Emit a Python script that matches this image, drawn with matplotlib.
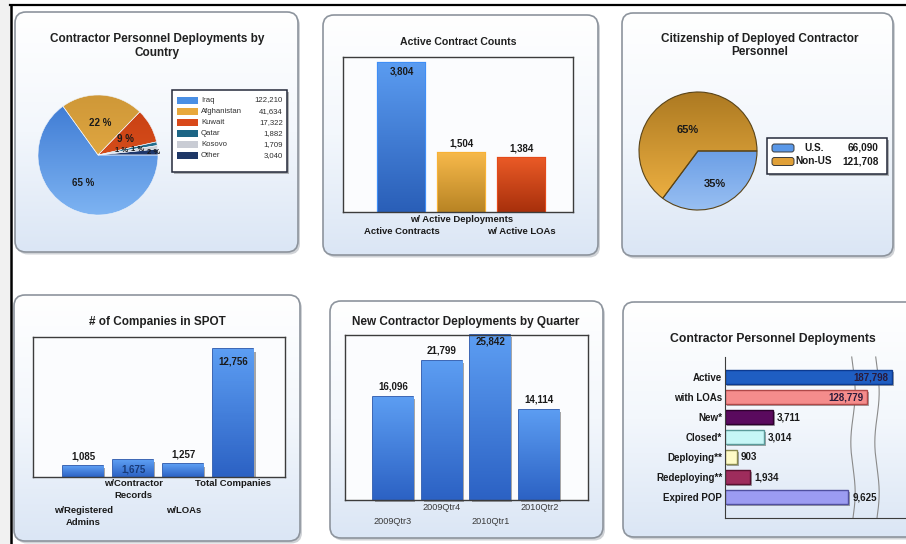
import numpy as np
import matplotlib
matplotlib.use("Agg")
import matplotlib.pyplot as plt
import matplotlib.patheffects as pe
from matplotlib.patches import FancyBboxPatch, Rectangle
from matplotlib.colors import LinearSegmentedColormap

plt.rcParams['font.family'] = ['Liberation Sans', 'DejaVu Sans']

W, H = 906, 544

# deployments by country
countries = ['Iraq', 'Afghanistan', 'Kuwait', 'Qatar', 'Kosovo', 'Other']
country_counts = [122210, 41634, 17322, 1882, 1709, 3040]

# active contracts
contract_labels = ['Active Contracts', 'w/ Active Deployments', 'w/ Active LOAs']
contract_counts = [3804, 1504, 1384]

# citizenship of deployed personnel
citizenship = ['U.S.', 'Non-US']
citizenship_counts = [66090, 121708]

# companies registered in SPOT
company_labels = ['w/Registered\nAdmins', 'w/Contractor\nRecords', 'w/LOAs', 'Total Companies']
company_counts = [1085, 1675, 1257, 12756]

# new deployments per quarter
quarters = ['2009Qtr3', '2009Qtr4', '2010Qtr1', '2010Qtr2']
quarter_counts = [16096, 21799, 25842, 14114]

# personnel deployments by status
status_labels = ['Active', 'with LOAs', 'New*', 'Closed*', 'Deploying**', 'Redeploying**', 'Expired POP']
status_counts = [187798, 128779, 3711, 3014, 903, 1934, 9625]

TXT = '#1a1a1a'

fig = plt.figure(figsize=(W / 100, H / 100), dpi=100)
fig.patch.set_facecolor('white')
bg = fig.add_axes([0, 0, 1, 1])
bg.axis('off')

panel_cmap = LinearSegmentedColormap.from_list('panel', ['#ffffff', '#f3f7fc', '#dbe6f5'])


def panel(x0, y0, x1, y1):
    kw = dict(boxstyle='round,pad=0,rounding_size=11')
    bg.add_patch(FancyBboxPatch((x0 + 2, y0 + 2.5), x1 - x0, y1 - y0, fc='#a8adb5',
                                ec='none', alpha=0.55, zorder=1, **kw))
    box = FancyBboxPatch((x0, y0), x1 - x0, y1 - y0, fc='none', ec='#8d949d', lw=1.2,
                         zorder=3, **kw)
    bg.add_patch(box)
    img = bg.imshow(np.linspace(0, 1, 128).reshape(-1, 1), cmap=panel_cmap,
                    extent=(x0, x1, y1, y0), aspect='auto', zorder=2)
    img.set_clip_path(box)


def chart_axes(x0, y0, x1, y1):
    return fig.add_axes([x0 / W, 1 - y1 / H, (x1 - x0) / W, (y1 - y0) / H])


def title(x, y, s, size=8.5):
    bg.text(x, y, s, ha='center', va='center', fontsize=size, fontweight='bold',
            color='#202020', linespacing=1.15, zorder=5)


def shade(ax, patches, top, bottom):
    cmap = LinearSegmentedColormap.from_list('bar', [top, bottom])
    for p in patches:
        x, y, w, h = p.get_x(), p.get_y(), p.get_width(), p.get_height()
        im = ax.imshow(np.linspace(0, 1, 64).reshape(-1, 1), cmap=cmap,
                       extent=(x, x + w, y, y + h), aspect='auto', zorder=p.get_zorder() + 0.1)
        im.set_clip_path(p)


def bar_frame(ax):
    ax.set_facecolor('#fbfcfe')
    for s in ax.spines.values():
        s.set_color('#3c3c3c')
        s.set_linewidth(1.0)
    ax.set_yticks([])
    ax.tick_params(axis='x', length=0, labelsize=6.8, labelcolor=TXT)


def stagger(ax, pads):
    for tick, pad in zip(ax.xaxis.get_major_ticks(), pads):
        tick.set_pad(pad)


shadow = [pe.SimplePatchShadow(offset=(1.5, -1.5), shadow_rgbFace='#606060', alpha=0.55), pe.Normal()]

# page frame
bg.add_patch(Rectangle((0, 0), 10, H, fc='#f1f1f1', ec='none', zorder=0))
bg.plot([10, W], [5, 5], color='black', lw=1.6, zorder=6)
bg.plot([10.5, 10.5], [5, H], color='black', lw=1.8, zorder=6)

panel(15, 12, 298, 252)
panel(323, 15, 598, 255)
panel(622, 13, 893, 256)
panel(14, 295, 300, 541)
panel(330, 301, 603, 538)
panel(623, 302, 930, 537)

# ---- deployments by country (pie) ----
title(157, 46, 'Contractor Personnel Deployments by\nCountry')
r = 60 * 1.03
ax1 = chart_axes(98 - r, 155 - r, 98 + r, 155 + r)
c1 = ['#4a8fe4', '#e8a83c', '#d9491a', '#1d6585', '#c9ccd4', '#1e3766']
wedges, _, pct = ax1.pie(country_counts, colors=c1, startangle=0, counterclock=False,
                         autopct=lambda p: f'{p:.0f} %', pctdistance=0.53,
                         wedgeprops=dict(ec='#f0f4fa', lw=0.4),
                         textprops=dict(fontsize=7, fontweight='bold', color='#1a1a1a'))
g1 = [('#3b78d2', '#7db3f2'), ('#cf9838', '#f0b44a'), ('#c63e12', '#e45a22'),
      ('#1d6585', '#2a7898'), ('#c0c4cc', '#dde0e6'), ('#1a3260', '#24407a')]
for w, (top, bot) in zip(wedges, g1):
    w.set_facecolor('none')
    cm = LinearSegmentedColormap.from_list('w', [top, bot])
    im = ax1.imshow(np.linspace(0, 1, 64).reshape(-1, 1), cmap=cm, extent=(-1, 1, -1, 1),
                    zorder=0.5)
    im.set_clip_path(w)
# the three thin slices share one spot, so spread their labels outwards a little
for w, t, d in zip(wedges[3:], pct[3:], [0.40, 0.66, 0.92]):
    a = np.deg2rad((w.theta1 + w.theta2) / 2)
    t.set_position((d * np.cos(a), d * np.sin(a)))
    t.set_fontsize(5.5)
ax1.set_xlim(-1.03, 1.03)
ax1.set_ylim(-1.03, 1.03)
ax1.set_aspect('equal')
ax1.axis('off')

# legend with counts
bg.add_patch(Rectangle((174, 92), 115, 82, fc='#707070', ec='none', alpha=0.5, zorder=4))
bg.add_patch(Rectangle((172, 90), 115, 82, fc='white', ec='#252a3a', lw=1.1, zorder=4))
for i, (name, v, col) in enumerate(zip(countries, country_counts, c1)):
    y = 100 + 11.1 * i
    bg.add_patch(Rectangle((177, y - 3.5), 21, 7, fc=col, ec='none', zorder=5))
    bg.text(201, y, name, fontsize=5.6, va='center', color='#303030', zorder=5)
    bg.text(283, y, f'{v:,}', fontsize=5.6, va='center', ha='right', color='#303030', zorder=5)

# ---- active contract counts ----
title(458, 42, 'Active Contract Counts', size=7.6)
ax2 = chart_axes(343, 57, 573, 212)
b2 = ax2.bar(range(3), contract_counts, width=0.78, color=['#2e66c4', '#c08a28', '#b0360e'],
             ec=['#3f8ef6', '#f8b236', '#e44a1a'], lw=1.6, zorder=2)
shade(ax2, b2, '#5a9bf0', '#2a5fb8')
shade(ax2, [b2[1]], '#f6b84a', '#b88424')
shade(ax2, [b2[2]], '#ea5a26', '#a8300c')
ax2.bar_label(b2, labels=[f'{contract_counts[0]:,}', '', ''], padding=-10, fontsize=7,
              fontweight='bold', color=TXT)
ax2.bar_label(b2, labels=['', f'{contract_counts[1]:,}', f'{contract_counts[2]:,}'], padding=3,
              fontsize=7, fontweight='bold', color=TXT)
ax2.set_xlim(-0.975, 2.86)
ax2.set_ylim(0, 3960)
bar_frame(ax2)
ax2.set_xticks(range(3), contract_labels, fontweight='bold')
stagger(ax2, [11, 2.5, 11])

# ---- citizenship (pie) ----
title(760, 45.5, 'Citizenship of Deployed Contractor\nPersonnel')
r = 59 * 1.03
ax3 = chart_axes(698 - r, 151 - r, 698 + r, 151 + r)
c3 = ['#5a98e8', '#e0a038']
w3, _, pct3 = ax3.pie(citizenship_counts, colors=c3, startangle=0, counterclock=False,
                      autopct=lambda p: f'{p:.0f}%',
                      wedgeprops=dict(ec='#5a4418', lw=0.8),
                      textprops=dict(fontsize=8, fontweight='bold', color='#1a1a1a'))
g3 = [('#3f7fda', '#98bff2'), ('#ad7a22', '#f2b444')]
for w, (top, bot) in zip(w3, g3):
    w.set_facecolor('none')
    cm = LinearSegmentedColormap.from_list('w', [top, bot])
    im = ax3.imshow(np.linspace(0, 1, 64).reshape(-1, 1), cmap=cm, extent=(-1, 1, -1, 1),
                    zorder=0.5)
    im.set_clip_path(w)
for w, t, d in zip(w3, pct3, [0.62, 0.4]):
    a = np.deg2rad((w.theta1 + w.theta2) / 2)
    t.set_position((d * np.cos(a), d * np.sin(a)))
ax3.set_xlim(-1.03, 1.03)
ax3.set_ylim(-1.03, 1.03)
ax3.set_aspect('equal')
ax3.axis('off')

bg.add_patch(Rectangle((769, 140), 120, 36, fc='#707070', ec='none', alpha=0.5, zorder=4))
bg.add_patch(Rectangle((767, 138), 120, 36, fc='white', ec='#252a3a', lw=1.1, zorder=4))
for i, (name, v, col) in enumerate(zip(citizenship, citizenship_counts, c3)):
    y = 148 + 13.5 * i
    bg.add_patch(FancyBboxPatch((772, y - 4), 22, 8, boxstyle='round,pad=0,rounding_size=2.5',
                                fc=col, ec='#3a3a3a', lw=0.7, zorder=5))
    bg.text(814, y, name, fontsize=7.2, fontweight='bold', va='center', ha='center', color=TXT,
            zorder=5)
    bg.text(879, y, f'{v:,}', fontsize=7.2, fontweight='bold', va='center', ha='right',
            color=TXT, zorder=5)

# ---- companies in SPOT ----
title(157, 322, '# of Companies in SPOT')
ax4 = chart_axes(33, 337, 285, 477)
b4 = ax4.bar(range(4), company_counts, width=0.8, color='#2a62c4', ec='#1a4ca8', lw=1.2, zorder=2)
for b in b4:
    b.set_path_effects(shadow)
shade(ax4, b4, '#5c9df2', '#2c62c4')
ax4.bar_label(b4, labels=[f'{company_counts[0]:,}', '', f'{company_counts[2]:,}', ''], padding=3.5,
              fontsize=7, fontweight='bold', color=TXT)
ax4.bar_label(b4, labels=['', f'{company_counts[1]:,}', '', ''], padding=-10.5,
              fontsize=7, fontweight='bold', color='#183a78')
ax4.bar_label(b4, labels=['', '', '', f'{company_counts[3]:,}'], padding=-12,
              fontsize=7, fontweight='bold', color=TXT)
ax4.set_xlim(-1.0, 4.03)
ax4.set_ylim(0, 14000)
bar_frame(ax4)
ax4.set_xticks(range(4), company_labels, fontweight='bold', linespacing=1.35)
stagger(ax4, [21, 1.5, 21, 1.5])

# ---- new deployments by quarter ----
title(466, 322, 'New Contractor Deployments by Quarter')
ax5 = chart_axes(345, 335, 588, 500)
b5 = ax5.bar(range(4), quarter_counts, width=0.82, color='#2a62c4', ec='#1a4ca8', lw=1.2,
             zorder=2, clip_on=False)
for b in b5:
    b.set_path_effects(shadow)
shade(ax5, b5, '#5c9df2', '#2c62c4')
ax5.bar_label(b5, labels=[f'{v:,}' if i != 2 else '' for i, v in enumerate(quarter_counts)],
              padding=4, fontsize=7, fontweight='bold', color=TXT)
ax5.bar_label(b5, labels=['', '', f'{quarter_counts[2]:,}', ''], padding=-8, fontsize=7,
              fontweight='bold', color=TXT)
ax5.set_xlim(-0.98, 4.0)
ax5.set_ylim(0, 25842)
bar_frame(ax5)
ax5.set_xticks(range(4), quarters)
ax5.tick_params(axis='x', labelsize=6.6, labelcolor='#3a3a3a')
stagger(ax5, [12, 2, 12, 2])

# ---- deployments by status (broken value axis) ----
title(773, 339, 'Contractor Personnel Deployments', size=8.8)
ax6 = chart_axes(725, 357, 906, 518)
brk_v = [0, 10000, 120000, 135000, 180000, 195000]
brk_p = [0, 128, 128.5, 152, 152.5, 181]
ax6.set_xscale('function', functions=(lambda v: np.interp(v, brk_v, brk_p),
                                      lambda p: np.interp(p, brk_p, brk_v)))
c6 = ['#1f5ec2', '#f58c8c', '#5a0a5e', '#c6f6f6', '#fffbc6', '#9e2c5c', '#9c9cf2']
e6 = ['#0c3a90', '#b04848', '#2e002e', '#5a9a9a', '#8a8a50', '#5a1030', '#5050a0']
b6 = ax6.barh(range(7), status_counts, height=0.72, color=c6, ec=e6, lw=1.0, zorder=2)
for b in b6:
    b.set_path_effects(shadow)
inside = ax6.bar_label(b6, labels=[f'{v:,}' if v > 100000 else '' for v in status_counts],
                       padding=-3, fontsize=7, fontweight='bold', color='#2a1a3a')
for t in inside:
    t.set_ha('right')
ax6.bar_label(b6, labels=[f'{v:,}' if v < 100000 else '' for v in status_counts],
              padding=3, fontsize=7, fontweight='bold', color=TXT)
ax6.set_xlim(0, 195000)
ax6.set_ylim(7.05, -1.0)
ax6.patch.set_visible(False)
ax6.spines[['top', 'right']].set_visible(False)
for s in ('left', 'bottom'):
    ax6.spines[s].set_color('#3c3c3c')
ax6.set_xticks([])
ax6.set_yticks(range(7), status_labels)
ax6.tick_params(axis='y', length=0, pad=2, labelsize=7)
for t in ax6.get_yticklabels():
    t.set_fontweight('bold')
    t.set_color(TXT)

# scale-break markers
yy = np.linspace(0, 1, 200)
for p in (brk_p[1], brk_p[3]):
    xf = p / brk_p[-1]
    ax6.plot(xf + 0.012 * np.sin(yy * 2 * np.pi * 1.6), yy, transform=ax6.transAxes,
             color='#8a8a8a', lw=0.8, zorder=1, clip_on=False)

bg.set_xlim(0, W)
bg.set_ylim(H, 0)
fig.savefig('out.png', dpi=100, facecolor='white')
